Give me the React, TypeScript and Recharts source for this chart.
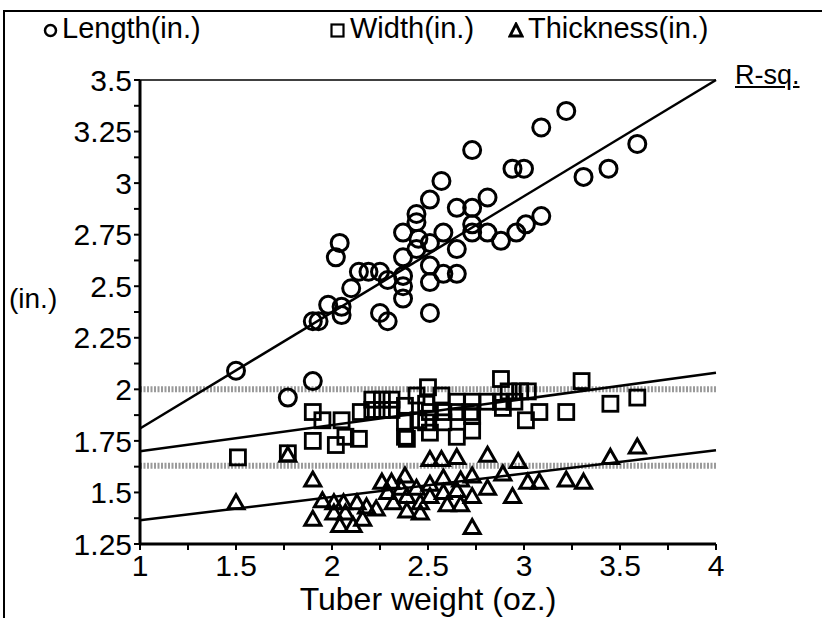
import { ReferenceLine, Scatter, ScatterChart, XAxis, YAxis } from "recharts"

// Tuber dimensions vs. tuber weight, with fitted lines and R-sq marks.
const FONT = "'Liberation Sans', Arial, Helvetica, sans-serif"

const X_TICKS = [1, 1.25, 1.5, 1.75, 2, 2.25, 2.5, 2.75, 3, 3.25, 3.5, 3.75, 4]
const X_LABELS = [1, 1.5, 2, 2.5, 3, 3.5, 4]
const Y_TICKS = [
  1.25, 1.375, 1.5, 1.625, 1.75, 1.875, 2, 2.125, 2.25, 2.375, 2.5, 2.625, 2.75,
  2.875, 3, 3.125, 3.25, 3.375, 3.5,
]
const Y_LABELS = [1.25, 1.5, 1.75, 2, 2.25, 2.5, 2.75, 3, 3.25, 3.5]
const RSQ_TICKS = [0.3, 0.4, 0.7]

const LENGTH = [
  { x: 1.5, y: 2.09 }, { x: 1.77, y: 1.96 }, { x: 1.9, y: 2.04 }, { x: 1.9, y: 2.33 },
  { x: 1.93, y: 2.33 }, { x: 1.98, y: 2.41 }, { x: 2.05, y: 2.4 }, { x: 2.05, y: 2.36 },
  { x: 2.04, y: 2.71 }, { x: 2.02, y: 2.64 }, { x: 2.1, y: 2.49 }, { x: 2.14, y: 2.57 },
  { x: 2.19, y: 2.57 }, { x: 2.25, y: 2.57 }, { x: 2.29, y: 2.53 }, { x: 2.25, y: 2.37 },
  { x: 2.29, y: 2.33 }, { x: 2.37, y: 2.76 }, { x: 2.37, y: 2.64 }, { x: 2.37, y: 2.55 },
  { x: 2.37, y: 2.5 }, { x: 2.37, y: 2.44 }, { x: 3.09, y: 3.27 }, { x: 2.73, y: 3.16 },
  { x: 2.94, y: 3.07 }, { x: 3.0, y: 3.07 }, { x: 2.57, y: 3.01 }, { x: 2.51, y: 2.92 },
  { x: 2.65, y: 2.88 }, { x: 2.73, y: 2.88 }, { x: 2.81, y: 2.93 }, { x: 2.44, y: 2.85 },
  { x: 2.44, y: 2.81 }, { x: 2.58, y: 2.76 }, { x: 2.45, y: 2.73 }, { x: 2.51, y: 2.71 },
  { x: 2.73, y: 2.8 }, { x: 2.73, y: 2.76 }, { x: 2.81, y: 2.76 }, { x: 2.88, y: 2.72 },
  { x: 2.96, y: 2.76 }, { x: 3.01, y: 2.8 }, { x: 3.09, y: 2.84 }, { x: 2.65, y: 2.68 },
  { x: 2.44, y: 2.68 }, { x: 2.51, y: 2.6 }, { x: 2.58, y: 2.56 }, { x: 2.65, y: 2.56 },
  { x: 2.51, y: 2.52 }, { x: 2.51, y: 2.37 }, { x: 3.22, y: 3.35 }, { x: 3.59, y: 3.19 },
  { x: 3.44, y: 3.07 }, { x: 3.31, y: 3.03 },
]

const WIDTH = [
  { x: 1.51, y: 1.67 }, { x: 1.77, y: 1.69 }, { x: 1.9, y: 1.89 }, { x: 1.9, y: 1.75 },
  { x: 1.95, y: 1.85 }, { x: 2.02, y: 1.73 }, { x: 2.05, y: 1.85 }, { x: 2.07, y: 1.77 },
  { x: 2.14, y: 1.76 }, { x: 2.15, y: 1.89 }, { x: 2.21, y: 1.95 }, { x: 2.26, y: 1.95 },
  { x: 2.31, y: 1.95 }, { x: 2.21, y: 1.9 }, { x: 2.26, y: 1.9 }, { x: 2.31, y: 1.9 },
  { x: 2.38, y: 1.92 }, { x: 2.38, y: 1.77 }, { x: 2.38, y: 1.84 }, { x: 2.5, y: 2.01 },
  { x: 2.88, y: 2.05 }, { x: 3.3, y: 2.04 }, { x: 2.49, y: 1.93 }, { x: 2.65, y: 1.94 },
  { x: 2.73, y: 1.94 }, { x: 2.81, y: 1.94 }, { x: 2.88, y: 1.94 }, { x: 2.95, y: 1.94 },
  { x: 2.51, y: 1.89 }, { x: 2.58, y: 1.89 }, { x: 2.65, y: 1.89 }, { x: 2.72, y: 1.89 },
  { x: 2.89, y: 1.91 }, { x: 3.08, y: 1.89 }, { x: 3.22, y: 1.89 }, { x: 3.45, y: 1.93 },
  { x: 3.59, y: 1.96 }, { x: 2.45, y: 1.85 }, { x: 2.49, y: 1.84 }, { x: 2.73, y: 1.87 },
  { x: 3.01, y: 1.85 }, { x: 2.51, y: 1.79 }, { x: 2.65, y: 1.77 }, { x: 2.73, y: 1.8 },
  { x: 2.39, y: 1.76 }, { x: 2.58, y: 1.84 }, { x: 2.44, y: 1.97 }, { x: 2.57, y: 1.97 },
  { x: 2.92, y: 1.99 }, { x: 2.98, y: 1.99 }, { x: 3.02, y: 1.99 },
]

const THICKNESS = [
  { x: 1.5, y: 1.45 }, { x: 1.77, y: 1.68 }, { x: 1.9, y: 1.56 }, { x: 1.9, y: 1.37 },
  { x: 1.95, y: 1.46 }, { x: 2.01, y: 1.45 }, { x: 2.06, y: 1.45 }, { x: 2.13, y: 1.45 },
  { x: 2.18, y: 1.43 }, { x: 2.04, y: 1.34 }, { x: 2.11, y: 1.34 }, { x: 2.16, y: 1.37 },
  { x: 2.01, y: 1.4 }, { x: 2.07, y: 1.4 }, { x: 2.23, y: 1.42 }, { x: 2.26, y: 1.55 },
  { x: 2.31, y: 1.55 }, { x: 2.38, y: 1.58 }, { x: 2.36, y: 1.52 }, { x: 2.29, y: 1.5 },
  { x: 2.39, y: 1.48 }, { x: 2.44, y: 1.52 }, { x: 2.46, y: 1.45 }, { x: 2.39, y: 1.41 },
  { x: 2.46, y: 1.4 }, { x: 2.32, y: 1.45 }, { x: 2.51, y: 1.66 }, { x: 2.57, y: 1.66 },
  { x: 2.65, y: 1.67 }, { x: 2.81, y: 1.68 }, { x: 2.97, y: 1.65 }, { x: 2.51, y: 1.54 },
  { x: 2.58, y: 1.57 }, { x: 2.67, y: 1.56 }, { x: 2.73, y: 1.58 }, { x: 2.51, y: 1.48 },
  { x: 2.58, y: 1.5 }, { x: 2.65, y: 1.51 }, { x: 2.6, y: 1.44 }, { x: 2.67, y: 1.44 },
  { x: 2.73, y: 1.48 }, { x: 2.81, y: 1.52 }, { x: 2.89, y: 1.59 }, { x: 2.94, y: 1.48 },
  { x: 3.02, y: 1.55 }, { x: 3.08, y: 1.55 }, { x: 2.73, y: 1.33 }, { x: 3.45, y: 1.67 },
  { x: 3.59, y: 1.72 }, { x: 3.22, y: 1.56 }, { x: 3.31, y: 1.55 },
]

// fitted lines (end points at x = 1 and x = 4)
const LENGTH_FIT = [{ x: 1, y: 1.81 }, { x: 4, y: 3.5 }]
const WIDTH_FIT = [{ x: 1, y: 1.7 }, { x: 4, y: 2.08 }]
const THICKNESS_FIT = [{ x: 1, y: 1.365 }, { x: 4, y: 1.705 }]
// gray hatched R-sq marks, read on the left scale
const RSQ_MARKS = [2.0, 1.63]

const tickStyle = { fontSize: 30, fill: "#000", fontFamily: FONT }

function Ring(props: any) {
  return <circle cx={props.cx} cy={props.cy} r={8.5} fill="none" stroke="#000" strokeWidth={3} />
}

function Box(props: any) {
  return (
    <rect x={props.cx - 7.5} y={props.cy - 7.5} width={15} height={15} fill="none" stroke="#000" strokeWidth={2.8} />
  )
}

function Tri(props: any) {
  const { cx, cy } = props
  return (
    <path
      d={`M${cx},${cy - 8} L${cx + 8},${cy + 6} L${cx - 8},${cy + 6} Z`}
      fill="none"
      stroke="#000"
      strokeWidth={3}
      strokeLinejoin="miter"
    />
  )
}

export default function App() {
  return (
    <div style={{ position: "relative", width: 822, height: 618, background: "#fff", fontFamily: FONT }}>
      <style>{"body{margin:0}"}</style>
      <div style={{ position: "absolute", left: 3, top: 10, width: 2, height: 608, background: "#000" }} />
      <div style={{ position: "absolute", left: 3, top: 10, width: 819, height: 2, background: "#000" }} />

      {/* Legend */}
      <div style={{ position: "absolute", top: 14, left: 0, fontSize: 29, lineHeight: "29px", color: "#000" }}>
        <svg style={{ position: "absolute", left: 43, top: 9, display: "block" }} width={15} height={15}>
          <circle cx={7.5} cy={7.5} r={5.5} fill="none" stroke="#000" strokeWidth={2.5} />
        </svg>
        <span style={{ position: "absolute", left: 62, whiteSpace: "nowrap" }}>Length(in.)</span>
        <svg style={{ position: "absolute", left: 330, top: 9, display: "block" }} width={15} height={15}>
          <rect x={1.5} y={1.5} width={12} height={12} fill="none" stroke="#000" strokeWidth={2.2} />
        </svg>
        <span style={{ position: "absolute", left: 350, whiteSpace: "nowrap" }}>Width(in.)</span>
        <svg style={{ position: "absolute", left: 508, top: 8, display: "block" }} width={16} height={16}>
          <path d="M8,2 L14,14 L2,14 Z" fill="none" stroke="#000" strokeWidth={2.8} />
        </svg>
        <span style={{ position: "absolute", left: 528, whiteSpace: "nowrap" }}>Thickness(in.)</span>
      </div>

      <div style={{ position: "absolute", left: 735, top: 62, fontSize: 27, lineHeight: "27px", textDecoration: "underline" }}>
        R-sq.
      </div>

      <ScatterChart width={822} height={618} margin={{ top: 80, right: 0, bottom: 0, left: 0 }}>
        <XAxis
          type="number"
          dataKey="x"
          domain={[1, 4]}
          ticks={X_TICKS}
          interval={0}
          allowDataOverflow
          height={74}
          tickSize={6}
          tickMargin={5}
          tick={tickStyle}
          tickFormatter={(v: number) => (X_LABELS.includes(v) ? String(v) : "")}
          axisLine={{ stroke: "#000", strokeWidth: 3 }}
          tickLine={{ stroke: "#000", strokeWidth: 2 }}
          label={{
            value: "Tuber weight (oz.)",
            position: "insideBottom",
            offset: 8,
            style: { ...tickStyle, fontSize: 32, textAnchor: "middle" },
          }}
        />
        <YAxis
          yAxisId="left"
          type="number"
          dataKey="y"
          domain={[1.25, 3.5]}
          ticks={Y_TICKS}
          interval={0}
          allowDataOverflow
          width={140}
          tickSize={6}
          tickMargin={2}
          tick={tickStyle}
          tickFormatter={(v: number) => (Y_LABELS.includes(v) ? String(v) : "")}
          axisLine={{ stroke: "#000", strokeWidth: 3 }}
          tickLine={{ stroke: "#000", strokeWidth: 2 }}
          label={{ value: "(in.)", position: "insideLeft", offset: 9, dy: -14, style: { ...tickStyle, fontSize: 28, textAnchor: "start" } }}
        />
        <YAxis
          yAxisId="frame"
          orientation="right"
          type="number"
          domain={[1.25, 3.5]}
          ticks={Y_TICKS}
          interval={0}
          width={0}
          tickSize={6}
          tickFormatter={() => ""}
          axisLine={{ stroke: "#000", strokeWidth: 3 }}
          tickLine={{ stroke: "#000", strokeWidth: 2 }}
        />
        <YAxis
          yAxisId="rsq"
          orientation="right"
          type="number"
          domain={[0.1442, 0.7468]}
          ticks={RSQ_TICKS}
          interval={0}
          width={106}
          tickSize={0}
          tickMargin={18}
          tick={{ ...tickStyle, fontSize: 29 }}
          tickFormatter={(v: number) => "." + Math.round(v * 10)}
          axisLine={false}
          tickLine={false}
        />

        <ReferenceLine yAxisId="left" y={3.5} stroke="#000" strokeWidth={1.5} />
        {RSQ_MARKS.map((v) => (
          <ReferenceLine key={v} yAxisId="left" y={v} stroke="#9a9a9a" strokeWidth={6} strokeDasharray="2 1.5" />
        ))}
        <ReferenceLine yAxisId="left" segment={LENGTH_FIT} stroke="#000" strokeWidth={2.5} />
        <ReferenceLine yAxisId="left" segment={WIDTH_FIT} stroke="#000" strokeWidth={2.5} />
        <ReferenceLine yAxisId="left" segment={THICKNESS_FIT} stroke="#000" strokeWidth={2.5} />

        <Scatter yAxisId="left" data={LENGTH} shape={Ring} isAnimationActive={false} />
        <Scatter yAxisId="left" data={WIDTH} shape={Box} isAnimationActive={false} />
        <Scatter yAxisId="left" data={THICKNESS} shape={Tri} isAnimationActive={false} />
      </ScatterChart>
    </div>
  )
}
